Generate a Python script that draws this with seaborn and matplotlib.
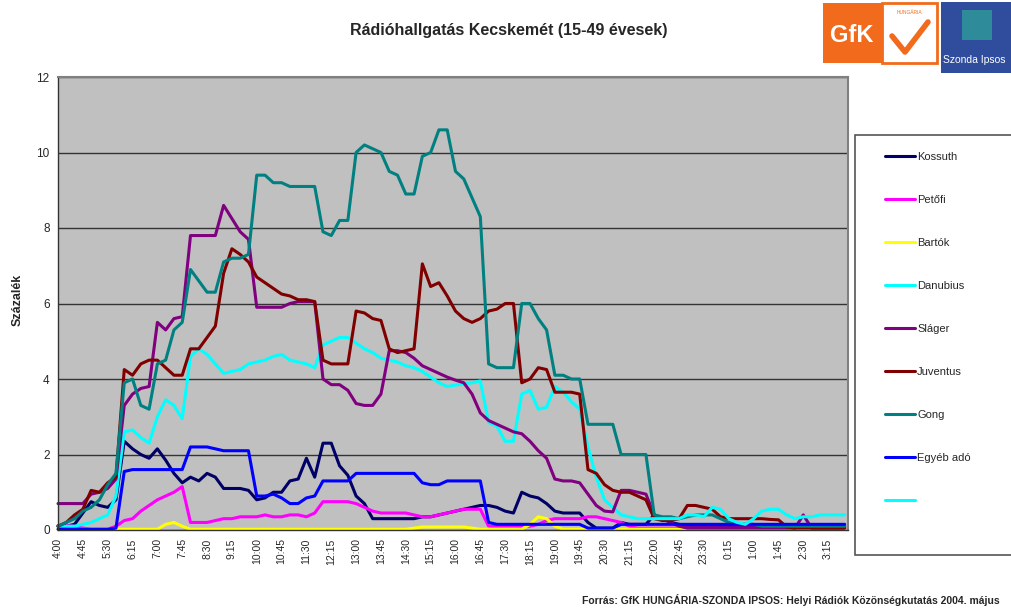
import numpy as np
import pandas as pd
import matplotlib
matplotlib.use('Agg')
import matplotlib.pyplot as plt
from matplotlib.lines import Line2D
from matplotlib.patches import Rectangle
import seaborn as sns

nan = np.nan

# category axis: 15-minute slots from 4:00 to 3:45, a label every 45 minutes
tick_labels = ['4:00', '4:45', '5:30', '6:15', '7:00', '7:45', '8:30', '9:15',
               '10:00', '10:45', '11:30', '12:15', '13:00', '13:45', '14:30', '15:15',
               '16:00', '16:45', '17:30', '18:15', '19:00', '19:45', '20:30', '21:15',
               '22:00', '22:45', '23:30', '0:15', '1:00', '1:45', '2:30', '3:15']

stations = ['Kossuth', 'Petőfi', 'Bartók', 'Danubius', 'Sláger', 'Juventus', 'Gong', 'Egyéb adó', ' ']
colors = ['#000066', '#FF00FF', '#FFFF00', '#00FFFF', '#800080', '#800000', '#008080', '#0000FF', '#00FFFF']

kossuth = [0.1, 0.1, 0.15, 0.45, 0.75, 0.65, 0.6, 0.8, 2.35, 2.15, 2.0, 1.9,
           2.15, 1.85, 1.5, 1.25, 1.4, 1.3, 1.5, 1.4, 1.1, 1.1, 1.1, 1.05,
           0.8, 0.85, 1.0, 1.0, 1.3, 1.35, 1.9, 1.4, 2.3, 2.3, 1.7, 1.45,
           0.9, 0.7, 0.3, 0.3, 0.3, 0.3, 0.3, 0.3, 0.35, 0.35, 0.4, 0.45,
           0.5, 0.55, 0.6, 0.65, 0.65, 0.6, 0.5, 0.45, 1.0, 0.9, 0.85, 0.7,
           0.5, 0.45, 0.45, 0.45, 0.2, 0.05, 0.05, 0.05, 0.2, 0.15, 0.15, 0.15,
           0.4, 0.3, 0.2, 0.15, 0.1, 0.1, 0.1, 0.1, 0.1, 0.1, 0.1, 0.1,
           0.1, 0.1, 0.1, 0.1, 0.1, 0.1, 0.1, 0.1, 0.1, 0.1, 0.1, 0.1]

petofi = [0.12, 0.12, 0.1, 0.05, 0.02, 0.02, 0.02, 0.1, 0.25, 0.3, 0.5, 0.65,
          0.8, 0.9, 1.0, 1.15, 0.2, 0.2, 0.2, 0.25, 0.3, 0.3, 0.35, 0.35,
          0.35, 0.4, 0.35, 0.35, 0.4, 0.4, 0.35, 0.45, 0.75, 0.75, 0.75, 0.75,
          0.7, 0.6, 0.5, 0.45, 0.45, 0.45, 0.45, 0.4, 0.35, 0.35, 0.4, 0.45,
          0.5, 0.55, 0.55, 0.55, 0.1, 0.1, 0.1, 0.1, 0.1, 0.1, 0.15, 0.25,
          0.3, 0.3, 0.3, 0.3, 0.35, 0.35, 0.3, 0.25, 0.2, 0.1, 0.05, 0.05,
          0.05, 0.05, 0.05, 0.05, 0.05, 0.05, 0.05, 0.05, 0.05, 0.05, 0.05, 0.05,
          0.05, 0.05, 0.05, 0.05, 0.05, 0.05, 0.05, 0.05, 0.05, 0.05, 0.05, 0.05]

bartok = [0.02, 0.02, 0.02, 0.02, 0.02, 0.02, 0.02, 0.02, 0.02, 0.02, 0.02, 0.02,
          0.02, 0.15, 0.2, 0.1, 0.02, 0.02, 0.02, 0.02, 0.02, 0.02, 0.02, 0.02,
          0.02, 0.02, 0.02, 0.02, 0.02, 0.02, 0.02, 0.02, 0.02, 0.02, 0.02, 0.02,
          0.02, 0.02, 0.02, 0.02, 0.02, 0.02, 0.02, 0.05, 0.08, 0.08, 0.08, 0.08,
          0.08, 0.08, 0.05, 0.02, 0.02, 0.02, 0.02, 0.02, 0.02, 0.15, 0.35, 0.3,
          0.1, 0.02, 0.02, 0.02, 0.02, 0.02, 0.02, 0.02, 0.02, 0.02, 0.02, 0.02,
          0.02, 0.02, 0.02, 0.02, 0.02, 0.02, 0.02, 0.02, 0.02, 0.02, 0.02, 0.02,
          0.02, 0.02, 0.02, 0.02, 0.02, 0.02, 0.02, 0.02, 0.02, 0.02, 0.02, 0.02]

danubius = [0.1, 0.1, 0.1, 0.15, 0.2, 0.3, 0.4, 0.9, 2.6, 2.65, 2.45, 2.3,
            3.0, 3.45, 3.3, 2.95, 4.6, 4.8, 4.65, 4.4, 4.15, 4.2, 4.25, 4.4,
            4.45, 4.5, 4.6, 4.65, 4.5, 4.45, 4.4, 4.3, 4.9, 5.0, 5.1, 5.1,
            4.95, 4.8, 4.7, 4.55, 4.5, 4.45, 4.35, 4.3, 4.2, 4.05, 3.9, 3.8,
            3.84, 3.87, 3.9, 3.95, 2.85, 2.75, 2.35, 2.35, 3.6, 3.7, 3.2, 3.25,
            3.8, 3.65, 3.4, 3.2, 2.2, 1.4, 0.8, 0.6, 0.4, 0.35, 0.3, 0.3,
            nan, nan, nan, nan, nan, nan, nan, nan, nan, nan, nan, nan,
            nan, nan, nan, nan, nan, nan, nan, nan, nan, nan, nan, nan]

slager = [0.7, 0.7, 0.7, 0.7, 0.95, 1.0, 1.1, 1.35, 3.3, 3.6, 3.75, 3.8,
          5.5, 5.3, 5.6, 5.65, 7.8, 7.8, 7.8, 7.8, 8.6, 8.25, 7.9, 7.7,
          5.9, 5.9, 5.9, 5.9, 6.0, 6.05, 6.05, 6.05, 4.0, 3.85, 3.85, 3.7,
          3.35, 3.3, 3.3, 3.6, 4.75, 4.75, 4.7, 4.55, 4.35, 4.25, 4.15, 4.05,
          3.97, 3.9, 3.6, 3.1, 2.9, 2.8, 2.7, 2.6, 2.55, 2.35, 2.1, 1.9,
          1.35, 1.3, 1.3, 1.25, 0.95, 0.65, 0.5, 0.48, 1.05, 1.05, 1.0, 0.95,
          0.4, 0.3, 0.2, 0.1, 0.05, 0.05, 0.05, 0.05, 0.05, 0.05, 0.05, 0.05,
          0.05, 0.05, 0.05, 0.05, 0.05, 0.05, 0.4, 0.05, 0.05, 0.05, 0.05, 0.05]

juventus = [0.1, 0.2, 0.4, 0.55, 1.05, 1.0, 1.25, 1.4, 4.25, 4.1, 4.4, 4.5,
            4.5, 4.3, 4.1, 4.1, 4.8, 4.8, 5.1, 5.4, 6.8, 7.45, 7.3, 7.1,
            6.7, 6.55, 6.4, 6.25, 6.2, 6.1, 6.1, 6.05, 4.5, 4.4, 4.4, 4.4,
            5.8, 5.75, 5.6, 5.55, 4.8, 4.7, 4.75, 4.8, 7.05, 6.45, 6.55, 6.2,
            5.8, 5.6, 5.5, 5.6, 5.8, 5.85, 6.0, 6.0, 3.9, 4.0, 4.3, 4.25,
            3.65, 3.65, 3.65, 3.6, 1.6, 1.5, 1.2, 1.05, 1.0, 1.0, 0.9, 0.8,
            0.3, 0.25, 0.25, 0.3, 0.65, 0.65, 0.6, 0.55, 0.35, 0.3, 0.3, 0.3,
            0.3, 0.3, 0.28, 0.27, 0.08, 0.05, 0.05, 0.05, 0.05, 0.05, 0.05, 0.05]

gong = [0.1, 0.2, 0.3, 0.5, 0.6, 0.8, 1.2, 1.5, 3.9, 4.0, 3.3, 3.2,
        4.4, 4.5, 5.3, 5.5, 6.9, 6.6, 6.3, 6.3, 7.1, 7.2, 7.2, 7.3,
        9.4, 9.4, 9.2, 9.2, 9.1, 9.1, 9.1, 9.1, 7.9, 7.8, 8.2, 8.2,
        10.0, 10.2, 10.1, 10.0, 9.5, 9.4, 8.9, 8.9, 9.9, 10.0, 10.6, 10.6,
        9.5, 9.3, 8.8, 8.3, 4.4, 4.3, 4.3, 4.3, 6.0, 6.0, 5.6, 5.3,
        4.1, 4.1, 4.0, 4.0, 2.8, 2.8, 2.8, 2.8, 2.0, 2.0, 2.0, 2.0,
        0.4, 0.35, 0.35, 0.3, 0.35, 0.4, 0.4, 0.4, 0.3, 0.2, 0.15, 0.15,
        0.15, 0.1, 0.1, 0.1, 0.1, 0.1, 0.1, 0.1, 0.1, 0.1, 0.1, 0.1]

egyeb = [0.02, 0.02, 0.02, 0.02, 0.02, 0.02, 0.02, 0.05, 1.55, 1.6, 1.6, 1.6,
         1.6, 1.6, 1.6, 1.6, 2.2, 2.2, 2.2, 2.15, 2.1, 2.1, 2.1, 2.1,
         0.9, 0.9, 0.95, 0.85, 0.7, 0.7, 0.85, 0.9, 1.3, 1.3, 1.3, 1.3,
         1.5, 1.5, 1.5, 1.5, 1.5, 1.5, 1.5, 1.5, 1.25, 1.2, 1.2, 1.3,
         1.3, 1.3, 1.3, 1.3, 0.2, 0.15, 0.15, 0.15, 0.15, 0.15, 0.15, 0.15,
         0.15, 0.15, 0.15, 0.15, 0.05, 0.05, 0.05, 0.05, 0.15, 0.15, 0.15, 0.15,
         0.15, 0.15, 0.15, 0.15, 0.15, 0.15, 0.15, 0.15, 0.15, 0.15, 0.15, 0.15,
         0.15, 0.15, 0.15, 0.15, 0.15, 0.15, 0.15, 0.15, 0.15, 0.15, 0.15, 0.15]

# unnamed 9th series (night part of the light cyan line)
egyeb2 = [nan] * 71 + [0.3,
          0.3, 0.3, 0.3, 0.3, 0.4, 0.4, 0.35, 0.6, 0.55, 0.3, 0.2, 0.15,
          0.3, 0.5, 0.55, 0.55, 0.4, 0.3, 0.35, 0.35, 0.4, 0.4, 0.4, 0.4]

series = [kossuth, petofi, bartok, danubius, slager, juventus, gong, egyeb, egyeb2]

# long table for seaborn
frames = []
for name, vals in zip(stations, series):
    frames.append(pd.DataFrame({'slot': np.arange(len(vals)), 'value': vals, 'station': name}))
df = pd.concat(frames, ignore_index=True).dropna()

sns.set_style('white')
plt.rcParams['font.family'] = ['Liberation Sans', 'DejaVu Sans']

W, H = 1011, 608
fig = plt.figure(figsize=(W / 100, H / 100), dpi=100)

# decoration layer in pixel coordinates
deco = fig.add_axes([0, 0, 1, 1], zorder=0)
deco.set_xlim(0, W)
deco.set_ylim(H, 0)
deco.axis('off')

ax = fig.add_axes([58 / W, 1 - 530 / H, 790 / W, 453 / H], zorder=1)
palette = dict(zip(stations, colors))
sns.lineplot(data=df, x='slot', y='value', hue='station', hue_order=stations,
             palette=palette, linewidth=2.2, errorbar=None, legend=False,
             ax=ax, clip_on=False)

ax.set_facecolor('#C0C0C0')
ax.set_xlim(0, 95.4)
ax.set_ylim(0, 12)
ax.set_yticks(range(0, 13, 2))
ax.set_xticks(range(0, 96, 3))
ax.set_xticklabels(tick_labels, rotation=90, fontsize=7.5)
ax.set_xticks(range(96), minor=True)
ax.tick_params(axis='x', which='both', direction='out', length=4, width=0.8,
               color='#333333', pad=2)
ax.tick_params(axis='y', direction='out', length=4, width=0.8, color='#333333',
               labelsize=8.5, pad=2)
ax.yaxis.grid(True, color='#333333', linewidth=1)
ax.xaxis.grid(False)
ax.set_axisbelow(True)
ax.set_xlabel('')
ax.set_ylabel('')
for side in ['top', 'right']:
    ax.spines[side].set_color('#808080')
    ax.spines[side].set_linewidth(1.5)
for side in ['left', 'bottom']:
    ax.spines[side].set_color('#333333')
    ax.spines[side].set_linewidth(1)

fig.text(18 / W, 1 - 300 / H, 'Százalék', rotation=90, ha='center', va='center',
         fontsize=9, fontweight='bold')
fig.text(509 / W, 1 - 30 / H, 'Rádióhallgatás Kecskemét (15-49 évesek)',
         ha='center', va='center', fontsize=11.5, fontweight='bold')
fig.text(1000 / W, 1 - 600 / H,
         'Forrás: GfK HUNGÁRIA-SZONDA IPSOS: Helyi Rádiók Közönségkutatás 2004. május',
         ha='right', va='center', fontsize=7.5, fontweight='bold')

# legend frame and entries
deco.add_patch(Rectangle((855, 135), 160, 420, facecolor='white',
                         edgecolor='#555555', linewidth=1.2))
handles = [Line2D([], [], color=c, linewidth=2.2) for c in colors]
fig.legend(handles, stations, loc='upper left',
           bbox_to_anchor=(885 / W, 1 - 152 / H), bbox_transform=fig.transFigure,
           frameon=False, fontsize=8, labelspacing=2.97, handlelength=2.7,
           handletextpad=0.2, borderpad=0, borderaxespad=0)

# logos
deco.add_patch(Rectangle((823, 3), 59, 60, facecolor='#F26A1B', edgecolor='none'))
deco.add_patch(Rectangle((882, 3), 55, 60, facecolor='white', edgecolor='#F26A1B', linewidth=2))
deco.text(852, 35, 'GfK', color='white', fontsize=17, fontweight='bold',
          ha='center', va='center')
deco.text(909, 13, 'HUNGÁRIA', color='#F26A1B', fontsize=3.5, ha='center', va='center')
deco.plot([892, 905, 928], [36, 52, 22], color='#F26A1B', linewidth=4,
          solid_capstyle='round')
deco.add_patch(Rectangle((941, 2), 75, 71, facecolor='#2F4D9C', edgecolor='none'))
deco.add_patch(Rectangle((962, 10), 30, 30, facecolor='#2E8C9A', edgecolor='none'))
deco.text(943, 60, 'Szonda Ipsos', color='white', fontsize=7.5, ha='left', va='center')

fig.savefig('out.png', dpi=100)
